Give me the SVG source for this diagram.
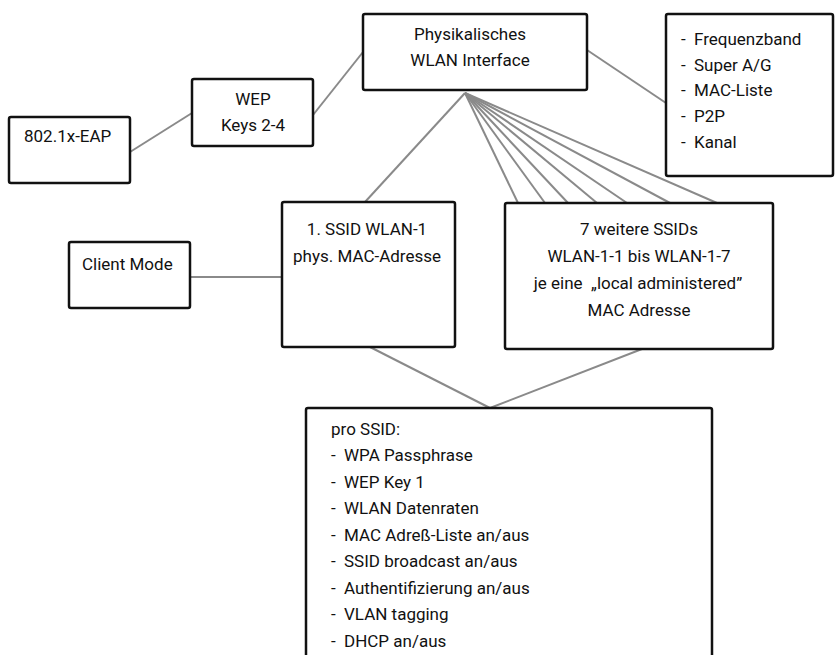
<svg xmlns="http://www.w3.org/2000/svg" width="836" height="655" viewBox="0 0 836 655">
<style>
.box{fill:#fff;stroke:#111;stroke-width:2.5;stroke-linejoin:round}
.c{stroke:#8a8a8a;stroke-width:2;fill:none}
text{font-family:Roboto,Lato,"Liberation Sans",sans-serif;font-size:17px;fill:#111}
.m{text-anchor:middle}
</style>
<rect width="836" height="655" fill="#fff"/>
<g id="connectors">
<line class="c" x1="130" y1="152" x2="192" y2="113"/>
<line class="c" x1="313" y1="115" x2="363" y2="52"/>
<line class="c" x1="587" y1="50" x2="666" y2="103"/>
<line class="c" x1="465" y1="93" x2="365" y2="202"/>
<line class="c" x1="465" y1="93" x2="518" y2="203"/>
<line class="c" x1="465" y1="93" x2="545" y2="203"/>
<line class="c" x1="465" y1="93" x2="568" y2="203"/>
<line class="c" x1="465" y1="93" x2="597" y2="203"/>
<line class="c" x1="465" y1="93" x2="627" y2="203"/>
<line class="c" x1="465" y1="93" x2="670" y2="203"/>
<line class="c" x1="465" y1="93" x2="717" y2="203"/>
<line class="c" x1="190" y1="277" x2="282" y2="277"/>
<line class="c" x1="370" y1="347" x2="490" y2="408"/>
<line class="c" x1="642" y1="349" x2="490" y2="408"/>
</g>
<g id="eap">
<rect class="box" x="9" y="117" width="121" height="66" rx="2"/>
<text x="24" y="142">802.1x-EAP</text>
</g>
<g id="wep">
<rect class="box" x="192" y="79" width="121" height="67" rx="2"/>
<text class="m" x="253" y="105">WEP</text>
<text class="m" x="253" y="131">Keys 2-4</text>
</g>
<g id="phys">
<rect class="box" x="363" y="14" width="224" height="76" rx="2"/>
<text class="m" x="470" y="40">Physikalisches</text>
<text class="m" x="470" y="66">WLAN Interface</text>
</g>
<g id="params">
<rect class="box" x="666" y="14" width="167" height="162" rx="2"/>
<text x="681" y="45">-</text><text x="694" y="45">Frequenzband</text>
<text x="681" y="71">-</text><text x="694" y="71">Super A/G</text>
<text x="681" y="96">-</text><text x="694" y="96">MAC-Liste</text>
<text x="681" y="122">-</text><text x="694" y="122">P2P</text>
<text x="681" y="148">-</text><text x="694" y="148">Kanal</text>
</g>
<g id="client">
<rect class="box" x="69" y="242" width="121" height="66" rx="2"/>
<text x="82" y="270">Client Mode</text>
</g>
<g id="ssid1">
<rect class="box" x="282" y="202" width="173" height="145" rx="2"/>
<text class="m" x="367" y="235">1. SSID WLAN-1</text>
<text class="m" x="367" y="262">phys. MAC-Adresse</text>
</g>
<g id="ssid7">
<rect class="box" x="505" y="203" width="268" height="146" rx="2"/>
<text class="m" x="639" y="235">7 weitere SSIDs</text>
<text class="m" x="639" y="262">WLAN-1-1 bis WLAN-1-7</text>
<text class="m" x="638" y="289">je eine&#160; „local administered”</text>
<text class="m" x="639" y="316">MAC Adresse</text>
</g>
<g id="proSSID">
<rect class="box" x="306" y="408" width="406" height="270" rx="2"/>
<text x="331" y="435">pro SSID:</text>
<text x="331" y="461">-</text><text x="344" y="461">WPA Passphrase</text>
<text x="331" y="488">-</text><text x="344" y="488">WEP Key 1</text>
<text x="331" y="514">-</text><text x="344" y="514">WLAN Datenraten</text>
<text x="331" y="541">-</text><text x="344" y="541">MAC Adreß-Liste an/aus</text>
<text x="331" y="567">-</text><text x="344" y="567">SSID broadcast an/aus</text>
<text x="331" y="594">-</text><text x="344" y="594">Authentifizierung an/aus</text>
<text x="331" y="620">-</text><text x="344" y="620">VLAN tagging</text>
<text x="331" y="647">-</text><text x="344" y="647">DHCP an/aus</text>
</g>
</svg>
